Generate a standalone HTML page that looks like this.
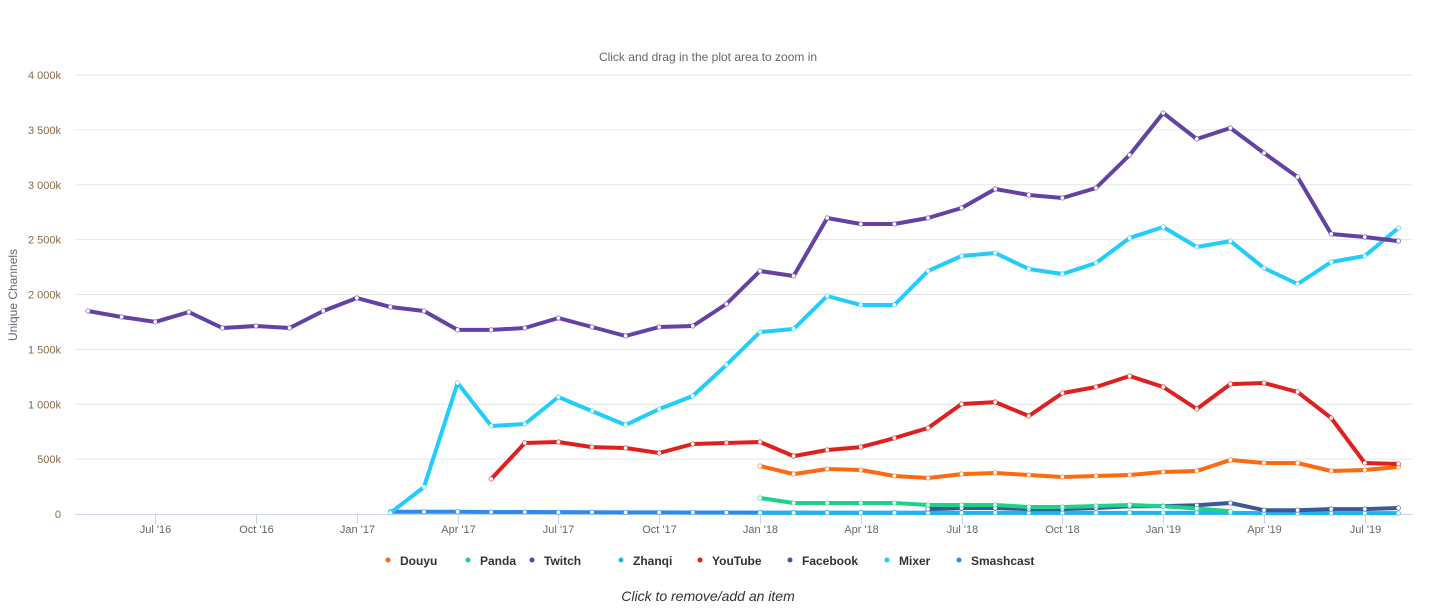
<!DOCTYPE html>
<html><head><meta charset="utf-8"><style>
html,body{margin:0;padding:0;background:#fff;width:1433px;height:608px;overflow:hidden;font-family:"Liberation Sans",sans-serif}
svg{display:block}
</style></head><body>
<svg id="chart" width="1433" height="608" xmlns="http://www.w3.org/2000/svg">
<text x="708" y="61" text-anchor="middle" font-size="12" fill="#666">Click and drag in the plot area to zoom in</text>
<text transform="translate(17,295) rotate(-90)" text-anchor="middle" font-size="12" fill="#666677">Unique Channels</text>
<g id="grid"></g><g id="xaxis"></g><g id="series"></g><g id="legend"></g>
<text x="708" y="601" text-anchor="middle" font-size="14" font-style="italic" fill="#333">Click to remove/add an item</text>
</svg>
<script>
// month index 0 = May 2016
const yTicks = [0, 500, 1000, 1500, 2000, 2500, 3000, 3500, 4000];
const yTickLabels = ["0", "500k", "1 000k", "1 500k", "2 000k", "2 500k", "3 000k", "3 500k", "4 000k"];
const xTickMonths = [2, 5, 8, 11, 14, 17, 20, 23, 26, 29, 32, 35, 38];
const xTickLabels = ["Jul '16","Oct '16","Jan '17","Apr '17","Jul '17","Oct '17","Jan '18","Apr '18","Jul '18","Oct '18","Jan '19","Apr '19","Jul '19"];
const seriesNames = ["Douyu","Panda","Twitch","Zhanqi","YouTube","Facebook","Mixer","Smashcast"];
const seriesColors = ["#fe6a0d","#1ed28b","#6441a5","#1fb4ef","#e0201f","#3b5998","#22cdfb","#2a8cf0"];
const seriesStart = [20, 20, 0, 20, 12, 25, 9, 9];
const douyu = [437,364,410,401,346,328,364,374,355,337,346,355,383,392,492,465,465,392,401,428];
const panda = [146,100,100,100,100,82,82,82,64,64,73,82,70,50,25];
const twitch = [1850,1795,1750,1840,1695,1713,1695,1850,1968,1886,1850,1677,1677,1695,1786,1704,1622,1704,1713,1913,2214,2169,2697,2642,2642,2697,2788,2961,2907,2879,2970,3271,3654,3417,3517,3289,3071,2551,2524,2487];
const zhanqi = [10,10,10,10,10,10,10,10,10,10,10,10,10,10,10,8,8,8,8,8];
const youtube = [319,647,656,610,601,556,638,647,656,528,583,610,692,784,1002,1020,893,1102,1157,1257,1157,957,1184,1194,1112,875,465,456];
const facebook = [45,55,55,45,45,55,70,72,80,100,35,35,45,45,55];
const mixer = [10,246,1194,802,820,1066,938,811,957,1075,1358,1658,1686,1986,1904,1904,2214,2351,2378,2232,2187,2287,2515,2615,2433,2487,2241,2096,2296,2351,2606];
const smashcast = [20,20,20,18,18,17,16,15,15,14,14,13,13,12,12,12,11,10];
const seriesValues = [douyu,panda,twitch,zhanqi,youtube,facebook,mixer,smashcast];

const NS = "http://www.w3.org/2000/svg";
const X0 = 88, DX = 33.6, Y0 = 514, YS = 0.10975;
function xPos(m){ return X0 + m*DX; }
function yPos(v){ return Y0 - v*YS; }
function mk(tag, attrs, parent){ const e=document.createElementNS(NS,tag); for(const k in attrs) e.setAttribute(k,attrs[k]); parent.appendChild(e); return e; }

const grid = document.getElementById('grid');
yTicks.forEach((v,i)=>{
  if(i>0){ const l=mk('line',{x1:75,x2:1413,y1:yPos(v),y2:yPos(v),stroke:'#e6e6e6','stroke-width':1},grid);
  
   }
  const t=mk('text',{x:61,y:yPos(v)+4,'text-anchor':'end','font-size':11,fill:'#8a6a45'},grid);
  t.textContent=yTickLabels[i];
  
  
});
const xa = document.getElementById('xaxis');
const axl = mk('line',{x1:75,x2:1413,y1:Y0+0.5,y2:Y0+0.5,stroke:'#ccd6eb','stroke-width':1},xa);


xTickMonths.forEach((m,i)=>{
  const x=Math.round(xPos(m))+0.5;
  const tk=mk('line',{x1:x,x2:x,y1:Y0,y2:Y0+10,stroke:'#ccd6eb'},xa);
  
  
  const t=mk('text',{x:x,y:Y0+19,'text-anchor':'middle','font-size':11,fill:'#666'},xa);
  t.textContent=xTickLabels[i];
  
  
});

const sg = document.getElementById('series');
const order=[7,3,5,1,0,4,6,2];
order.forEach(s=>{
  const vals=seriesValues[s], st=seriesStart[s];
  const pts=vals.map((v,i)=>xPos(st+i).toFixed(1)+','+yPos(v).toFixed(1)).join(' ');
  const g=mk('g',{},sg);
  
  
  const pl=mk('polyline',{points:pts,fill:'none',stroke:seriesColors[s],'stroke-width':4,'stroke-linejoin':'round','stroke-linecap':'round'},g);
  
  
  vals.forEach((v,i)=>{
    const c=mk('circle',{cx:xPos(st+i),cy:yPos(v),r:2.2,fill:'#fff',stroke:seriesColors[s],'stroke-width':0.6},g);
    
    
  });
});

const lg=document.getElementById('legend');
const legX=[388,468,532,621,700,790,887,959];
seriesNames.forEach((n,i)=>{
  const g=mk('g',{},lg);
  
  
  mk('circle',{cx:legX[i],cy:560,r:2.5,fill:seriesColors[i]},g);
  const t=mk('text',{x:legX[i]+12,y:565,'font-size':12,'font-weight':'bold',fill:'#333'},g);
  t.textContent=n;
});
</script>
</body></html>
